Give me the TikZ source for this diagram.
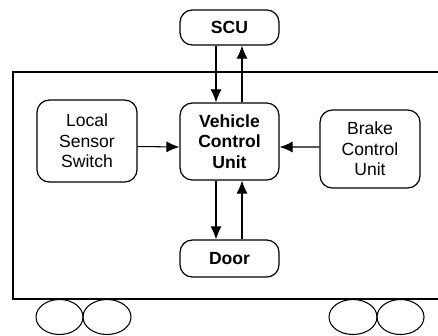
\documentclass[tikz,border=0pt]{standalone}
\usepackage{fontspec}
\setmainfont{Liberation Sans}
\usetikzlibrary{arrows.meta,positioning,calc}
\tikzset{
  unitbox/.style={draw=black, rounded corners=7pt, line width=0.7pt, fill=white, align=center, font=\fontsize{10}{11.6}\selectfont, inner sep=0pt},
  line/.style={-{Latex[length=2.6mm,width=2.2mm]}, draw=black, line width=0.6pt},
  wheel/.style={draw=black, line width=0.6pt}
}

\begin{document}
\begin{tikzpicture}[x=0.02cm,y=-0.02cm]
  \useasboundingbox (0,0) rectangle (438,335);

  % car body and wheels
  \draw[line width=0.7pt] (438,72) -- (13,72) -- (13,299) -- (438,299);
  \draw[wheel] (59.5,317) ellipse (23.5 and 17.5);
  \draw[wheel] (107,317) ellipse (24 and 17.5);
  \draw[wheel] (353,317) ellipse (24 and 17.5);
  \draw[wheel] (400.5,317) ellipse (23.5 and 17.5);

  \node[unitbox, minimum width=1.98cm, minimum height=0.7cm, font=\fontsize{10}{11.6}\selectfont\bfseries] (scu) at (229.5,27.5) {SCU};
  \node[unitbox, minimum width=1.98cm, minimum height=1.54cm, font=\fontsize{10}{11.6}\selectfont\bfseries] (vcu) at (229.5,141.5) {Vehicle\\Control\\Unit};
  \node[unitbox, minimum width=2.0cm, minimum height=1.64cm] (local) at (87,141) {Local\\Sensor\\Switch};
  \node[unitbox, minimum width=2.0cm, minimum height=1.56cm] (brake) at (370,149) {Brake\\Control\\Unit};
  \node[unitbox, minimum width=1.98cm, minimum height=0.74cm, font=\fontsize{10}{11.6}\selectfont\bfseries] (door) at (229.5,258.5) {Door};

  \draw[line] ([xshift=-0.27cm]scu.south) -- ([xshift=-0.27cm]vcu.north);
  \draw[line] ([xshift=0.25cm]vcu.north) -- ([xshift=0.25cm]scu.south);
  \draw[line] ([xshift=-0.27cm]vcu.south) -- ([xshift=-0.27cm]door.north);
  \draw[line] ([xshift=0.25cm]door.north) -- ([xshift=0.25cm]vcu.south);
  \draw[line] ([yshift=-0.11cm]local.east) -- ([yshift=-0.11cm]vcu.west);
  \draw[line] ([yshift=0.04cm]brake.west) -- ([yshift=-0.11cm]vcu.east);
\end{tikzpicture}
\end{document}
